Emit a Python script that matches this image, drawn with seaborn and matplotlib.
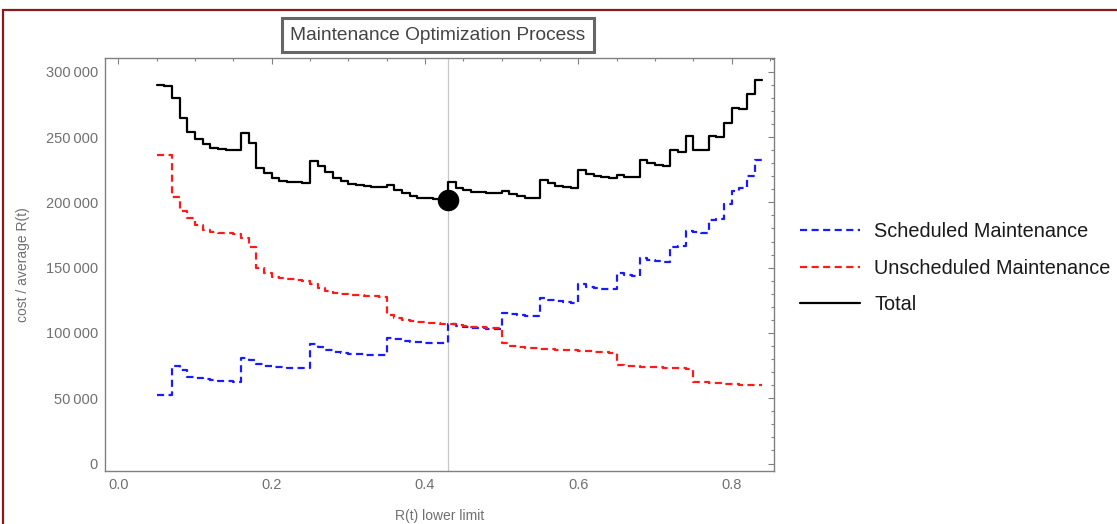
import numpy as np
import pandas as pd
import matplotlib
matplotlib.use('Agg')
import matplotlib.pyplot as plt
from matplotlib.patches import Rectangle
from matplotlib.ticker import MultipleLocator, FuncFormatter, FormatStrFormatter
import seaborn as sns

# R(t) lower limit grid 0.05 ... 0.84
r_limit = np.round(np.arange(0.05, 0.845, 0.01), 2)

scheduled = [
    52500, 52500, 52500, 74500, 71500, 66500, 65300, 64500, 63900, 63400,
    63000, 62700, 81000, 79500, 76500, 75000, 74200, 73600, 73200, 73000,
    72800, 91500, 89000, 87200, 85600, 84700, 84000, 83500, 83200, 83000,
    82800, 96500, 95000, 93800, 93200, 92700, 92400, 92200, 92000, 106500,
    105200, 104500, 104000, 103700, 103400, 103200, 115500, 114300, 113500, 113000,
    112600, 127000, 125500, 124500, 123800, 123200, 137800, 135500, 134500, 133800,
    133300, 146000, 144500, 143800, 157500, 156000, 155000, 154500, 166000, 166500,
    177800, 177000, 176500, 186500, 187500, 198500, 209000, 211000, 220500, 232500,
]

unscheduled = [
    236500, 236500, 236300, 204400, 193400, 187800, 182700, 178800, 177500, 176800,
    176300, 175500, 172500, 166000, 149500, 145700, 143000, 141800, 141300, 140500,
    139500, 137200, 134600, 132000, 130300, 129600, 129300, 128900, 128400, 128000,
    127700, 113700, 111200, 110000, 108800, 108200, 107800, 107500, 107200, 106500,
    105800, 105200, 104700, 104300, 104000, 103700, 92000, 90200, 89400, 88800,
    88300, 87800, 87500, 87200, 86900, 86600, 86300, 86000, 85700, 85300,
    85000, 75500, 75000, 74600, 74300, 74000, 73700, 73400, 73100, 72800,
    72300, 62500, 62200, 61800, 61400, 61000, 60700, 60400, 60100, 59800,
]

total = [
    289500, 289500, 289000, 279800, 264500, 254200, 248600, 244500, 241900, 240700,
    240200, 240000, 253400, 245800, 226100, 222300, 218900, 216500, 215800, 215200,
    214800, 232000, 228100, 223100, 218900, 216400, 214000, 213000, 212300, 211800,
    211500, 213300, 209500, 207000, 205000, 203500, 203000, 202500, 201800, 215400,
    211300, 209500, 208200, 207600, 207300, 207000, 209000, 206200, 204900, 203500,
    203000, 217200, 214600, 212600, 212000, 211300, 224800, 221800, 220200, 219200,
    218800, 221000, 219700, 219200, 232500, 230400, 228700, 228000, 240200, 238900,
    250900, 240200, 240000, 250400, 250000, 261100, 272100, 271800, 282900, 293300,
]

df = pd.DataFrame({'r': r_limit, 'sched': scheduled, 'unsched': unscheduled, 'total': total})

sns.set_style('white')
plt.rcParams['font.family'] = ['Liberation Sans', 'DejaVu Sans']

fig = plt.figure(figsize=(11.17, 5.24), dpi=100)
ax = fig.add_axes([105/1117, 53/524, 669/1117, 413/524])

# optimum = minimum of total
i_opt = int(np.argmin(df['total']))
r_opt = df['r'][i_opt]
ax.axvline(r_opt, color='#c8c8c8', lw=0.9, zorder=0)

dash = (0, (3.2, 2.0))
sns.lineplot(data=df, x='r', y='sched', ax=ax, color='#1a1aff', lw=1.6,
             linestyle=dash, drawstyle='steps-pre', label='Scheduled Maintenance')
sns.lineplot(data=df, x='r', y='unsched', ax=ax, color='#ff1a1a', lw=1.6,
             linestyle=dash, drawstyle='steps-pre', label='Unscheduled Maintenance')
sns.lineplot(data=df, x='r', y='total', ax=ax, color='black', lw=1.6,
             drawstyle='steps-pre', label='Total')
ax.plot(r_opt, df['total'][i_opt], 'o', color='black', ms=14.5, zorder=5)

ax.set_xlim(-0.0173, 0.855)
ax.set_ylim(-5700, 310500)

ax.xaxis.set_major_locator(MultipleLocator(0.2))
ax.xaxis.set_minor_locator(MultipleLocator(0.05))
ax.yaxis.set_major_locator(MultipleLocator(50000))
ax.yaxis.set_minor_locator(MultipleLocator(10000))
ax.xaxis.set_major_formatter(FormatStrFormatter('%.1f'))
ax.yaxis.set_major_formatter(FuncFormatter(lambda v, p: f"{int(v):,}".replace(',', '\u2009')))
ax.tick_params(which='both', direction='in', top=True, right=True,
               color='#808080', labelcolor='#707070', labelsize=10.5, width=0.8)
ax.tick_params(which='major', length=4.3, pad=5)
ax.tick_params(which='minor', length=2.2)
for s in ax.spines.values():
    s.set_color('#808080')
    s.set_linewidth(1.0)

ax.set_xlabel('R(t) lower limit', color='#707070', fontsize=10)
ax.set_ylabel('cost / average R(t)', color='#707070', fontsize=10)
ax.xaxis.set_label_coords(0.5, -0.091)
ax.yaxis.set_label_coords(-0.112, 0.5)

ax.legend(loc='center left', bbox_to_anchor=(800/1117, 1 - 268/524),
          bbox_transform=fig.transFigure, frameon=False, fontsize=14.3,
          handlelength=3.0, handletextpad=0.75, labelspacing=0.9,
          borderpad=0, borderaxespad=0, labelcolor='#1a1a1a')

fig.text(438/1117, 1 - 35/524, 'Maintenance Optimization Process', ha='center', va='center',
         fontsize=13.8, color='#444444',
         bbox=dict(boxstyle='square,pad=0.42', fc='white', ec='#666666', lw=2.2))

# dark red frame round the figure
fig.patches.append(Rectangle((3/1117, -0.1), 1.2, 1.1 - 10/524, transform=fig.transFigure,
                             fill=False, ec='#8b1a1a', lw=1.6))

plt.savefig('out.png', dpi=100)
